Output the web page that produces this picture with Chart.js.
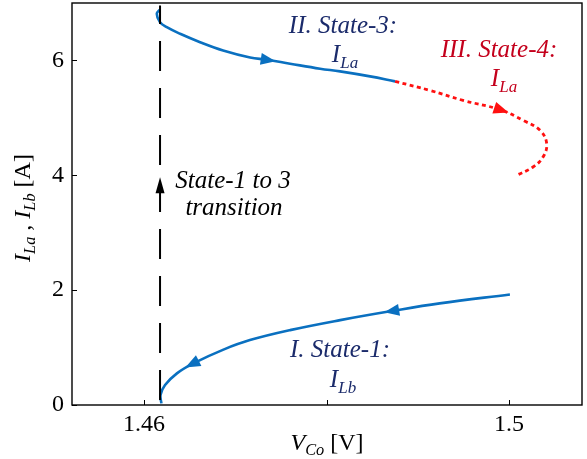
<!DOCTYPE html>
<html>
<head>
<meta charset="utf-8">
<script src="https://cdn.jsdelivr.net/npm/chart.js@4/dist/chart.umd.min.js"></script>
<style>
  html, body { margin: 0; padding: 0; background: #fff; }
  #wrap { width: 587px; height: 459px; }
</style>
</head>
<body>
<div id="wrap"><canvas id="c" width="587" height="459"></canvas></div>
<script>
// State-1 branch (I_Lb), traced from high V_Co down to the transition point
const vState1 = [1.5001, 1.4924, 1.4873, 1.4815, 1.4760, 1.4716, 1.4687, 1.4654, 1.4636, 1.4623, 1.4618, 1.4619];
const iState1 = [1.925, 1.769, 1.640, 1.478, 1.304, 1.130, 0.965, 0.725, 0.551, 0.348, 0.174, 0.030];

// State-3 branch (I_La), from the top of the transition towards higher V_Co
const vState3 = [1.46175, 1.46139, 1.46175, 1.46249, 1.46395, 1.46614, 1.46866, 1.47162, 1.47345, 1.47600, 1.47929, 1.48148, 1.48477, 1.48751];
const iState3 = [6.887, 6.812, 6.666, 6.579, 6.464, 6.318, 6.174, 6.052, 6.012, 5.943, 5.856, 5.809, 5.722, 5.635];

// State-4 branch (I_La), continuation of State-3
const vState4 = [1.48751, 1.49134, 1.49496, 1.49901, 1.50153, 1.50340, 1.50413, 1.50373, 1.50263, 1.50084];
const iState4 = [5.635, 5.478, 5.304, 5.143, 4.957, 4.783, 4.551, 4.318, 4.144, 4.000];

// Vertical State-1 -> State-3 transition
const vTransition = [1.46175, 1.46175];
const iTransition = [0.087, 6.957];

// Direction arrows placed on the curves
const arrowSeries = ['State-3', 'State-4', 'State-1', 'State-1', 'Transition'];
const arrowV = [1.47345, 1.49901, 1.4873, 1.4654, 1.46175];
const arrowI = [6.012, 5.143, 1.640, 0.725, 3.80];

// Axes
const xTickValues = [1.46, 1.48, 1.5];
const xTickLabels = ['1.46', '', '1.5'];
const yTickValues = [0, 2, 4, 6];
const yTickLabels = ['0', '2', '4', '6'];

const SERIF = '"Liberation Serif", "Times New Roman", serif';
const BLUE = '#0a70c0';
const RED = '#ff1010';
const NAVY = '#1b2b6b';
const DARKRED = '#c4001c';

const pts = (xs, ys) => xs.map((x, i) => ({ x, y: ys[i] }));

// Draw a run of text pieces, some as subscripts
function drawRich(ctx, parts, x, y, size, color, align) {
  const widths = parts.map(p => {
    ctx.font = (p.italic ? 'italic ' : '') + (p.sub ? size * 0.68 : size) + 'px ' + SERIF;
    return ctx.measureText(p.t).width;
  });
  const total = widths.reduce((a, b) => a + b, 0);
  let cx = align === 'center' ? x - total / 2 : x;
  ctx.fillStyle = color;
  ctx.textBaseline = 'alphabetic';
  ctx.textAlign = 'left';
  parts.forEach((p, i) => {
    ctx.font = (p.italic ? 'italic ' : '') + (p.sub ? size * 0.68 : size) + 'px ' + SERIF;
    ctx.fillText(p.t, cx, p.sub ? y + size * 0.22 : y);
    cx += widths[i];
  });
}

const decorPlugin = {
  id: 'decor',
  afterDatasetsDraw(chart) {
    const { ctx, chartArea: a, scales } = chart;
    const xs = scales.x, ys = scales.y;
    ctx.save();

    // arrowheads along the traced path
    arrowSeries.forEach((name, k) => {
      const ds = chart.data.datasets.find(d => d.label === name);
      const data = ds.data;
      const px = xs.getPixelForValue(arrowV[k]);
      const py = ys.getPixelForValue(arrowI[k]);
      let best = 0, bd = Infinity;
      data.forEach((p, i) => {
        const dx = xs.getPixelForValue(p.x) - px, dy = ys.getPixelForValue(p.y) - py;
        const d = dx * dx + dy * dy;
        if (d < bd) { bd = d; best = i; }
      });
      const i0 = Math.max(0, best - 1), i1 = Math.min(data.length - 1, best + 1);
      let dx = xs.getPixelForValue(data[i1].x) - xs.getPixelForValue(data[i0].x);
      let dy = ys.getPixelForValue(data[i1].y) - ys.getPixelForValue(data[i0].y);
      const len = Math.hypot(dx, dy) || 1;
      dx /= len; dy /= len;
      const nx = -dy, ny = dx;
      const isT = name === 'Transition';
      const L = isT ? 16 : 15, W = isT ? 9 : 12;
      ctx.fillStyle = ds.borderColor;
      ctx.beginPath();
      ctx.moveTo(px + dx * L * 0.6, py + dy * L * 0.6);
      ctx.lineTo(px - dx * L * 0.4 + nx * W / 2, py - dy * L * 0.4 + ny * W / 2);
      ctx.lineTo(px - dx * L * 0.4 - nx * W / 2, py - dy * L * 0.4 - ny * W / 2);
      ctx.closePath();
      ctx.fill();
    });

    // plot frame and inward ticks
    ctx.strokeStyle = '#000';
    ctx.lineWidth = 1.4;
    ctx.strokeRect(a.left, a.top, a.right - a.left, a.bottom - a.top);
    ctx.lineWidth = 1;
    ctx.beginPath();
    xTickValues.forEach(v => {
      const x = Math.round(xs.getPixelForValue(v)) + 0.5;
      ctx.moveTo(x, a.bottom); ctx.lineTo(x, a.bottom - 5);
    });
    yTickValues.forEach(v => {
      const y = Math.round(ys.getPixelForValue(v)) + 0.5;
      ctx.moveTo(a.left, y); ctx.lineTo(a.left + 5, y);
    });
    ctx.stroke();
    ctx.restore();
  },
  afterDraw(chart) {
    const { ctx, chartArea: a } = chart;
    ctx.save();
    const fs = 25;

    // axis titles
    drawRich(ctx, [
      { t: 'V', italic: true }, { t: 'Co', italic: true, sub: true }, { t: ' [V]' }
    ], (a.left + a.right) / 2, 450, 24, '#000', 'center');

    ctx.save();
    ctx.translate(30, 208);
    ctx.rotate(-Math.PI / 2);
    drawRich(ctx, [
      { t: 'I', italic: true }, { t: 'La', italic: true, sub: true }, { t: ' , ' },
      { t: 'I', italic: true }, { t: 'Lb', italic: true, sub: true }, { t: ' [A]' }
    ], 0, 0, 24, '#000', 'center');
    ctx.restore();

    // state annotations
    drawRich(ctx, [{ t: 'II. State-3:', italic: true }], 343, 33, fs, NAVY, 'center');
    drawRich(ctx, [{ t: 'I', italic: true }, { t: 'La', italic: true, sub: true }], 345, 62, fs, NAVY, 'center');

    drawRich(ctx, [{ t: 'III. State-4:', italic: true }], 499, 57, fs, DARKRED, 'center');
    drawRich(ctx, [{ t: 'I', italic: true }, { t: 'La', italic: true, sub: true }], 504, 86, fs, DARKRED, 'center');

    drawRich(ctx, [{ t: 'State-1 to 3', italic: true }], 233, 188, fs, '#000', 'center');
    drawRich(ctx, [{ t: 'transition', italic: true }], 234, 215, fs, '#000', 'center');

    drawRich(ctx, [{ t: 'I. State-1:', italic: true }], 340, 357, fs, NAVY, 'center');
    drawRich(ctx, [{ t: 'I', italic: true }, { t: 'Lb', italic: true, sub: true }], 343, 387, fs, NAVY, 'center');
    ctx.restore();
  }
};

new Chart(document.getElementById('c'), {
  type: 'scatter',
  data: {
    datasets: [
      { label: 'Transition', data: pts(vTransition, iTransition), showLine: true,
        borderColor: '#000', backgroundColor: '#000', borderWidth: 2,
        borderDash: [30, 17], pointRadius: 0, tension: 0 },
      { label: 'State-1', data: pts(vState1, iState1), showLine: true,
        borderColor: BLUE, backgroundColor: BLUE, borderWidth: 2.6,
        pointRadius: 0, tension: 0.4 },
      { label: 'State-3', data: pts(vState3, iState3), showLine: true,
        borderColor: BLUE, backgroundColor: BLUE, borderWidth: 2.6,
        pointRadius: 0, tension: 0.4 },
      { label: 'State-4', data: pts(vState4, iState4), showLine: true,
        borderColor: RED, backgroundColor: RED, borderWidth: 2.8,
        borderDash: [4, 3.5], pointRadius: 0, tension: 0.4 }
    ]
  },
  options: {
    responsive: false,
    animation: false,
    devicePixelRatio: 1,
    layout: { padding: { top: 3, right: 5, left: 0, bottom: 0 } },
    plugins: { legend: { display: false }, tooltip: { enabled: false } },
    scales: {
      x: {
        type: 'linear', min: 1.4521, max: 1.508,
        grid: { display: false, drawTicks: false },
        border: { display: false },
        afterBuildTicks: s => { s.ticks = xTickValues.map(v => ({ value: v })); },
        afterFit: s => { s.height = 54; s.paddingLeft = 0; s.paddingRight = 0; },
        ticks: {
          autoSkip: false, maxRotation: 0, padding: 5, color: '#000',
          font: { family: SERIF, size: 24 },
          callback: v => xTickLabels[xTickValues.findIndex(t => Math.abs(t - v) < 1e-9)] ?? ''
        }
      },
      y: {
        type: 'linear', min: 0, max: 7,
        grid: { display: false, drawTicks: false },
        border: { display: false },
        afterBuildTicks: s => { s.ticks = yTickValues.map(v => ({ value: v })); },
        afterFit: s => { s.width = 72; s.paddingTop = 0; s.paddingBottom = 0; },
        ticks: {
          padding: 8, color: '#000',
          font: { family: SERIF, size: 24 },
          callback: v => yTickLabels[yTickValues.indexOf(v)] ?? ''
        }
      }
    }
  },
  plugins: [decorPlugin]
});
</script>
</body>
</html>
